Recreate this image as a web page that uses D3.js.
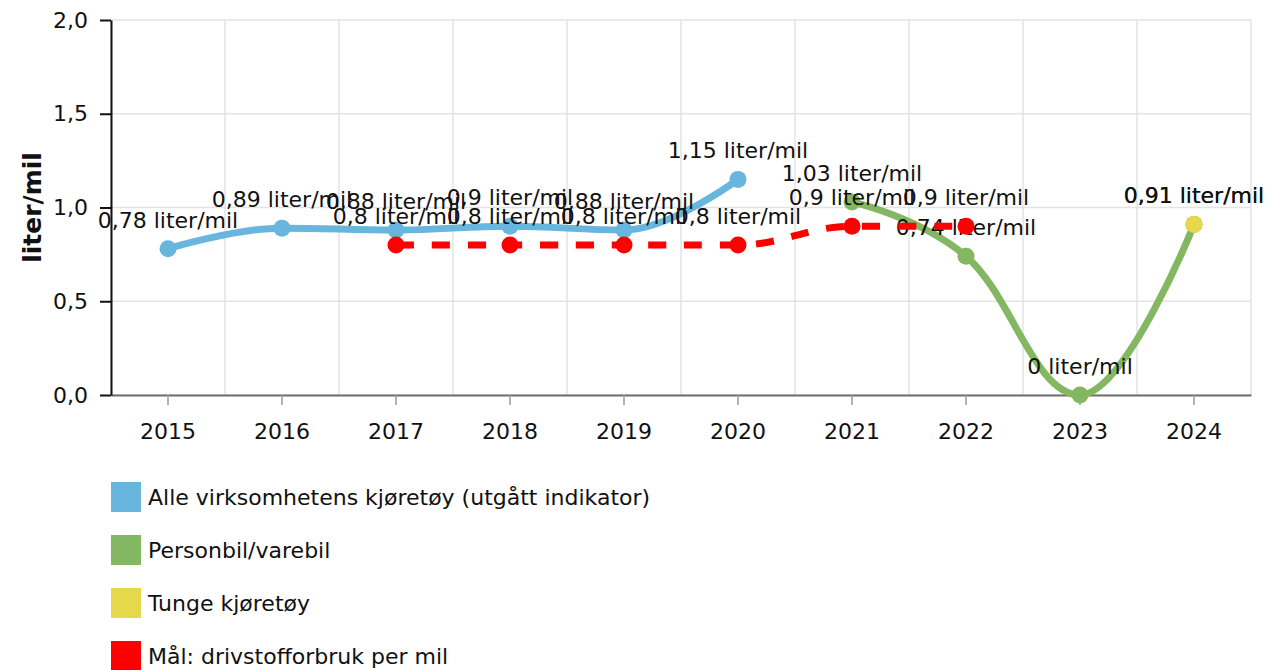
<!DOCTYPE html>
<html><head><meta charset="utf-8">
<script src="https://cdn.jsdelivr.net/npm/d3@7"></script>
<style>
html,body{margin:0;padding:0;background:#fff;}
svg{display:block;font-family:"DejaVu Sans",Verdana,sans-serif;}
</style></head>
<body><svg id="c" width="1282" height="670"></svg>
<script>
const years = ["2015","2016","2017","2018","2019","2020","2021","2022","2023","2024"];
const yTicks = [0, 0.5, 1.0, 1.5, 2.0];
const unit = " liter/mil";

const blueYears = ["2015","2016","2017","2018","2019","2020"];
const blueValues = [0.78, 0.89, 0.88, 0.9, 0.88, 1.15];
const greenYears = ["2021","2022","2023","2024"];
const greenValues = [1.03, 0.74, 0, 0.91];
const yellowYears = ["2024"];
const yellowValues = [0.91];
const redYears = ["2017","2018","2019","2020","2021","2022"];
const redValues = [0.8, 0.8, 0.8, 0.8, 0.9, 0.9];

const seriesNames = ["Alle virksomhetens kjøretøy (utgått indikator)", "Personbil/varebil", "Tunge kjøretøy", "Mål: drivstofforbruk per mil"];
const seriesColors = ["#68b6dd", "#84b761", "#e5d84a", "#ff0000"];

const series = [
  {name: seriesNames[0], color: seriesColors[0], x: blueYears, y: blueValues, dash: null},
  {name: seriesNames[1], color: seriesColors[1], x: greenYears, y: greenValues, dash: null},
  {name: seriesNames[2], color: seriesColors[2], x: yellowYears, y: yellowValues, dash: null},
  {name: seriesNames[3], color: seriesColors[3], x: redYears, y: redValues, dash: "18,18"}
];

const svg = d3.select("#c");
const L = 111, R = 1251, T = 20, B = 395;
const FS = 22;
const x = d3.scaleBand().domain(years).range([L, R]).padding(0);
const y = d3.scaleLinear().domain([0, 2]).range([B, T]);
const fmt = v => d3.format(".1f")(v).replace(".", ",");
const fmtLabel = v => String(v).replace(".", ",") + unit;

// gridlines
const grid = svg.append("g");
grid.selectAll("line.h").data(yTicks).join("line")
  .attr("x1", L).attr("x2", R).attr("y1", d => y(d)).attr("y2", d => y(d))
  .attr("stroke", "#e3e3e3").attr("stroke-width", 1.5);
const bounds = years.map(d => x(d)).concat([R]);
grid.selectAll("line.v").data(bounds).join("line")
  .attr("x1", d => d).attr("x2", d => d).attr("y1", T).attr("y2", B)
  .attr("stroke", "#e3e3e3").attr("stroke-width", 1.5);

// x axis
const xAxis = svg.append("g").attr("transform", `translate(0,${B})`)
  .call(d3.axisBottom(x).tickSize(10).tickSizeOuter(0).tickPadding(18));
xAxis.select(".domain").attr("stroke", "#6e6e6e").attr("stroke-width", 2);
xAxis.selectAll(".tick line").attr("stroke", "#9a9a9a").attr("stroke-width", 1.5);
xAxis.selectAll(".tick text").attr("font-size", FS).attr("fill", "#111")
  .attr("font-family", "DejaVu Sans");

// y axis
const yAxis = svg.append("g").attr("transform", `translate(${L},0)`)
  .call(d3.axisLeft(y).tickValues(yTicks).tickFormat(fmt).tickSize(11).tickSizeOuter(0).tickPadding(12));
yAxis.select(".domain").attr("stroke", "#111").attr("stroke-width", 2);
yAxis.selectAll(".tick line").attr("stroke", "#111").attr("stroke-width", 2);
yAxis.selectAll(".tick text").attr("font-size", FS).attr("fill", "#111")
  .attr("font-family", "DejaVu Sans");

svg.append("text").attr("transform", `translate(41,${(T + B) / 2}) rotate(-90)`)
  .attr("text-anchor", "middle").attr("font-size", 25).attr("font-weight", "bold")
  .attr("fill", "#111").text("liter/mil");

// Highcharts-like spline path
function splinePath(pts) {
  const p = d3.path();
  const sm = 1.5, den = sm + 1;
  const conts = pts.map((pt, i) => {
    const last = pts[i - 1], next = pts[i + 1];
    if (!last || !next) return null;
    let lx = (sm * pt[0] + last[0]) / den, ly = (sm * pt[1] + last[1]) / den;
    let rx = (sm * pt[0] + next[0]) / den, ry = (sm * pt[1] + next[1]) / den;
    const corr = ((ry - ly) * (rx - pt[0])) / (rx - lx) + pt[1] - ry;
    ly += corr; ry += corr;
    if (ly > last[1] && ly > pt[1]) { ly = Math.max(last[1], pt[1]); ry = 2 * pt[1] - ly; }
    else if (ly < last[1] && ly < pt[1]) { ly = Math.min(last[1], pt[1]); ry = 2 * pt[1] - ly; }
    if (ry > next[1] && ry > pt[1]) { ry = Math.max(next[1], pt[1]); ly = 2 * pt[1] - ry; }
    else if (ry < next[1] && ry < pt[1]) { ry = Math.min(next[1], pt[1]); ly = 2 * pt[1] - ry; }
    return {lx, ly, rx, ry};
  });
  pts.forEach((pt, i) => {
    if (i === 0) { p.moveTo(pt[0], pt[1]); return; }
    const pc = conts[i - 1], c = conts[i], last = pts[i - 1];
    p.bezierCurveTo(pc ? pc.rx : last[0], pc ? pc.ry : last[1], c ? c.lx : pt[0], c ? c.ly : pt[1], pt[0], pt[1]);
  });
  return p.toString();
}

series.forEach(s => {
  const g = svg.append("g");
  const pts = s.x.map((d, i) => [x(d) + x.bandwidth() / 2, y(s.y[i])]);
  if (pts.length > 1) {
    g.append("path").attr("d", splinePath(pts)).attr("fill", "none")
      .attr("stroke", s.color).attr("stroke-width", 7)
      .attr("stroke-dasharray", s.dash).attr("stroke-linecap", s.dash ? "butt" : "round")
      .attr("stroke-linejoin", "round");
  }
  g.selectAll("circle").data(pts).join("circle")
    .attr("cx", d => d[0]).attr("cy", d => d[1]).attr("r", 8.5).attr("fill", s.color);
  g.selectAll("text").data(s.y).join("text")
    .attr("x", (d, i) => pts[i][0]).attr("y", (d, i) => pts[i][1] - 21)
    .attr("text-anchor", "middle").attr("font-size", FS).attr("fill", "#111")
    .text(d => fmtLabel(d));
});

// legend
const lg = svg.append("g");
seriesNames.forEach((n, i) => {
  const cy = 497 + i * 53;
  lg.append("rect").attr("x", 111).attr("y", cy - 15).attr("width", 30).attr("height", 30)
    .attr("fill", seriesColors[i]);
  lg.append("text").attr("x", 148).attr("y", cy).attr("dy", "0.35em")
    .attr("font-size", FS).attr("fill", "#111").text(n);
});
</script></body></html>
